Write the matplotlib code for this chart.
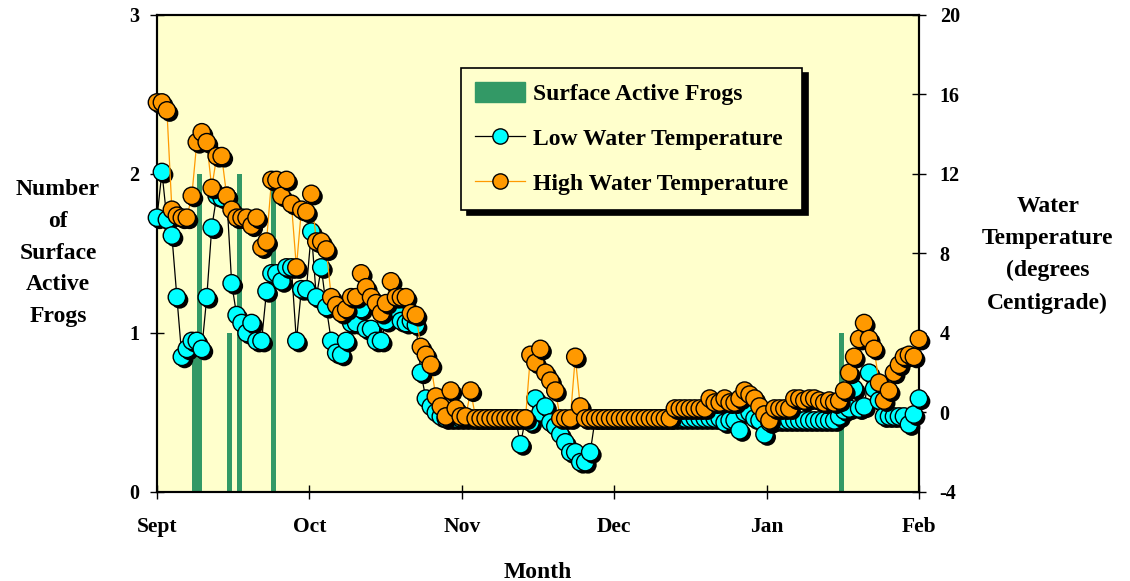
import numpy as np
import matplotlib
matplotlib.use("Agg")
import matplotlib.pyplot as plt
import matplotlib.patheffects as pe
from matplotlib.lines import Line2D
from matplotlib.patches import Patch

plt.rcParams['font.family'] = 'Liberation Serif'
plt.rcParams['font.weight'] = 'bold'
plt.rcParams['axes.labelweight'] = 'bold'
plt.rcParams['axes.unicode_minus'] = False

months = ['Sept', 'Oct', 'Nov', 'Dec', 'Jan', 'Feb']

# days counted from 1 Sept
frog_days = [7, 8, 14, 16, 23, 137]
frog_counts = [1, 2, 1, 2, 2, 1]

# daily water temperature, degrees C
low_temp = [
    9.8, 12.1, 9.7, 8.9, 5.8, 2.8, 3.2, 3.6, 3.6, 3.2,
    5.8, 9.3, 10.9, 10.8, 10.9, 6.5, 4.9, 4.5, 4.0, 4.5,
    3.6, 3.6, 6.1, 7.0, 7.0, 6.6, 7.3, 7.3, 3.6, 6.2,
    6.2, 9.1, 5.8, 7.3, 5.3, 3.6, 3.0, 2.9, 3.6, 4.5,
    4.5, 5.2, 4.2, 4.2, 3.6, 3.6, 4.6, 5.2, 5.2, 4.6,
    4.5, 4.6, 4.4, 2.0, 0.7, 0.3, 0.0, -0.2, -0.3, -0.3,
    -0.3, -0.3, -0.3, -0.3, -0.3, -0.3, -0.3, -0.3, -0.3, -0.3,
    -0.3, -0.3, -0.3, -1.6, -0.3, -0.5, 0.7, 0.0, 0.3, -0.5,
    -0.7, -1.1, -1.5, -2.0, -2.0, -2.5, -2.5, -2.0, -0.3, -0.3,
    -0.3, -0.3, -0.3, -0.3, -0.3, -0.3, -0.3, -0.3, -0.3, -0.3,
    -0.3, -0.3, -0.3, -0.3, -0.3, -0.3, -0.3, -0.3, -0.3, -0.3,
    -0.3, -0.3, -0.3, -0.3, -0.5, -0.4, -0.4, -0.9, 0.0, 0.0,
    -0.3, -0.4, -1.1, -0.5, -0.4, -0.4, -0.4, -0.4, -0.4, -0.4,
    -0.4, -0.4, -0.4, -0.4, -0.4, -0.4, -0.4, -0.2, 0.1, 0.2,
    1.2, 0.2, 0.3, 2.0, 1.2, 0.6, -0.2, -0.2, -0.2, -0.2,
    -0.2, -0.6, -0.1, 0.7,
]
high_temp = [
    15.6, 15.6, 15.2, 10.2, 9.9, 9.8, 9.8, 10.9, 13.6, 14.1,
    13.6, 11.3, 12.9, 12.9, 10.9, 10.2, 9.8, 9.8, 9.8, 9.4,
    9.8, 8.3, 8.6, 11.7, 11.7, 10.9, 11.7, 10.5, 7.3, 10.2,
    10.1, 11.0, 8.6, 8.6, 8.2, 5.8, 5.4, 5.0, 5.2, 5.8,
    5.8, 7.0, 6.3, 5.8, 5.5, 5.0, 5.5, 6.6, 5.8, 5.8,
    5.8, 5.0, 4.9, 3.3, 2.9, 2.4, 0.8, 0.3, -0.2, 1.1,
    0.2, -0.2, -0.2, 1.1, -0.3, -0.3, -0.3, -0.3, -0.3, -0.3,
    -0.3, -0.3, -0.3, -0.3, -0.3, 2.9, 2.5, 3.2, 2.0, 1.6,
    1.1, -0.3, -0.3, -0.3, 2.8, 0.3, -0.3, -0.3, -0.3, -0.3,
    -0.3, -0.3, -0.3, -0.3, -0.3, -0.3, -0.3, -0.3, -0.3, -0.3,
    -0.3, -0.3, -0.3, -0.3, 0.2, 0.2, 0.2, 0.2, 0.2, 0.2,
    0.2, 0.7, 0.5, 0.5, 0.7, 0.5, 0.5, 0.7, 1.1, 0.9,
    0.7, 0.3, -0.1, -0.4, 0.2, 0.2, 0.2, 0.2, 0.7, 0.7,
    0.6, 0.7, 0.7, 0.6, 0.5, 0.6, 0.5, 0.6, 1.1, 2.0,
    2.8, 3.7, 4.5, 3.7, 3.2, 1.5, 0.6, 1.1, 2.0, 2.4,
    2.8, 2.9, 2.8, 3.7,
]
days = np.arange(len(low_temp))

GREEN = '#339966'
CYAN = '#00FFFF'
ORANGE = '#FF9900'
PANEL = '#FFFFCC'

fig = plt.figure(figsize=(11.3, 5.81), dpi=100)
ax = fig.add_axes([0.1389, 0.1532, 0.6743, 0.821])
ax.set_facecolor(PANEL)

# frogs seen at the surface (left axis)
ax.bar(frog_days, frog_counts, width=1.0, align='edge', color=GREEN, zorder=2)
ax.set_xlim(0, 153)
ax.set_ylim(0, 3)
ax.set_yticks([0, 1, 2, 3])
ax.set_xticks(np.linspace(0, 153, len(months)))
ax.set_xticklabels(months)

# temperatures (right axis)
ax2 = ax.twinx()
ax2.set_ylim(-4, 20)
ax2.set_yticks(np.arange(-4, 21, 4))

shadow = [pe.withSimplePatchShadow(offset=(2, -2), shadow_rgbFace='black', alpha=1.0)]
ax2.plot(days, low_temp, color='black', lw=0.9, zorder=3)
ax2.plot(days, low_temp, ls='none', marker='o', ms=12.5, mfc=CYAN, mec='black',
         mew=1.0, path_effects=shadow, clip_on=False, zorder=4)
ax2.plot(days, high_temp, color=ORANGE, lw=0.9, zorder=5)
ax2.plot(days, high_temp, ls='none', marker='o', ms=12.5, mfc=ORANGE, mec='black',
         mew=1.0, path_effects=shadow, clip_on=False, zorder=6)

for a in (ax, ax2):
    for s in a.spines.values():
        s.set_linewidth(1.5)
        s.set_color('black')
    a.tick_params(direction='inout', length=10, width=1.0, labelsize=14.5)
ax.tick_params(axis='x', pad=13, labelsize=15.5)
ax.tick_params(axis='y', pad=8)
ax2.tick_params(axis='y', pad=10)

ax.set_xlabel('Month', fontsize=17, va='center')
ax.xaxis.set_label_coords(0.5, -0.168)
ax.set_ylabel('Number\nof\nSurface\nActive\nFrogs', fontsize=17, rotation=0,
              ha='center', va='center', linespacing=1.68)
ax.yaxis.set_label_coords(-0.130, 0.501)
ax2.set_ylabel('Water\nTemperature\n(degrees\nCentigrade)', fontsize=17, rotation=0,
               ha='center', va='center', linespacing=1.68)
ax2.yaxis.set_label_coords(1.169, 0.497)

handles = [
    Patch(facecolor=GREEN, edgecolor=GREEN),
    Line2D([], [], color='black', lw=0.9, marker='o', ms=11, mfc=CYAN, mec='black'),
    Line2D([], [], color=ORANGE, lw=0.9, marker='o', ms=11, mfc=ORANGE, mec='black'),
]
labels = ['Surface Active Frogs', 'Low Water Temperature', 'High Water Temperature']
leg = ax2.legend(handles, labels, loc='upper left', bbox_to_anchor=(0.399, 0.889),
                 borderaxespad=0, fontsize=17, frameon=True, fancybox=False,
                 facecolor=PANEL, edgecolor='black', framealpha=1,
                 shadow={'color': 'black', 'alpha': 1.0, 'ox': 4, 'oy': -4},
                 handlelength=2.1, handleheight=0.95, labelspacing=0.92,
                 borderpad=0.6, handletextpad=0.35)
leg.get_frame().set_linewidth(1.2)
leg.set_zorder(10)

fig.savefig('out.png', dpi=100, facecolor='white')
